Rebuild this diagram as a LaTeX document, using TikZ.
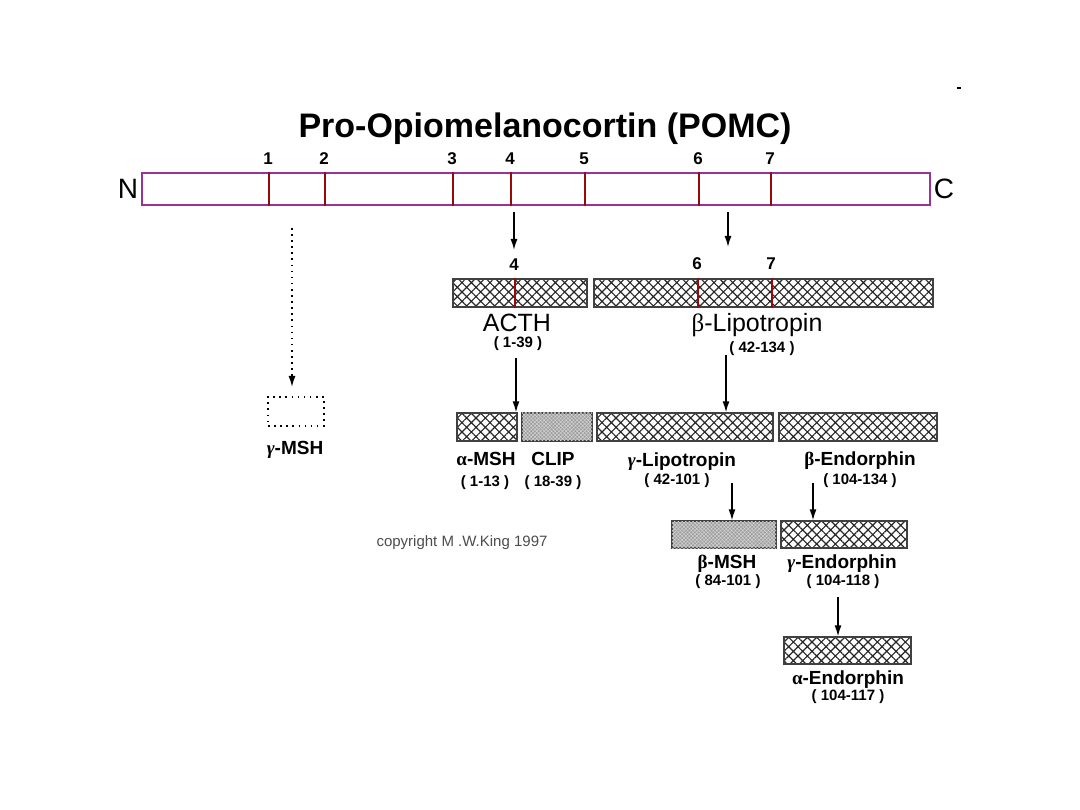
\documentclass[tikz,border=0pt]{standalone}
\usepackage{fontspec}
\setmainfont{Liberation Sans}
\newfontfamily\grk{Liberation Serif}
\usetikzlibrary{patterns.meta,arrows.meta}
\definecolor{pomcpurple}{RGB}{153,51,153}
\definecolor{tickred}{RGB}{150,10,10}
\begin{document}
\begin{tikzpicture}[x=1pt,y=-1pt,
  hatchbox/.style={draw=black!75,line width=1.3pt,inner sep=0pt,
     pattern={Hatch[angle=45,distance=6.6pt,line width=1.15pt]},pattern color=black!85},
  densebox/.style={draw=black!75,line width=1.3pt,inner sep=0pt,fill=gray!75,
     postaction={pattern={Hatch[angle=45,distance=2.6pt,line width=0.5pt]},pattern color=gray!35}},
  dotbox/.style={draw=black,line width=1.6pt,dash pattern=on 1.6pt off 4.5pt,inner sep=0pt},
  tickline/.style={draw=tickred,line width=2.2pt},
  arr/.style={line width=1.5pt,-{Latex[length=11pt,width=7pt]}},
  num/.style={anchor=base,inner sep=0pt,font=\fontsize{17}{20}\selectfont\bfseries},
  lab/.style={anchor=base,inner sep=0pt,font=\fontsize{19}{22}\selectfont\bfseries},
  biglab/.style={anchor=base,inner sep=0pt,font=\fontsize{25}{28}\selectfont},
  rng/.style={anchor=base,inner sep=0pt,font=\fontsize{15}{18}\selectfont\bfseries},
  termlab/.style={anchor=base,inner sep=0pt,font=\fontsize{28}{32}\selectfont}
]
\useasboundingbox (0,0) rectangle (1080,810);
% title
\node[anchor=base,inner sep=0pt,font=\fontsize{34}{40}\selectfont\bfseries] (title) at (545,138) {Pro-Opiomelanocortin (POMC)};
% main bar
\node[draw=pomcpurple,line width=1.5pt,minimum width=788pt,minimum height=32pt,inner sep=0pt] (pomc) at (536,189) {};
\node[termlab] (nterm) at (128,199) {N};
\node[termlab] (cterm) at (944,199) {C};
\foreach \x/\n in {269/1,325/2,453/3,511/4,585/5,699/6,771/7}{
  \draw[tickline] (pomc.north -| \x,0) -- (pomc.south -| \x,0);
  \node[num] (t\n) at (\x-1,165) {\n};
}
% stray mark
\draw[line width=1.5pt] (957,88) -- (961,88);
% second row
\node[hatchbox,minimum width=134pt,minimum height=28pt] (acth) at (520,293) {};
\node[hatchbox,minimum width=339pt,minimum height=28pt] (blip) at (763.5,293) {};
\draw[tickline] (acth.north -| 515,0) -- (acth.south -| 515,0);
\draw[tickline] (blip.north -| 698,0) -- (blip.south -| 698,0);
\draw[tickline] (blip.north -| 772,0) -- (blip.south -| 772,0);
\node[num] (n4) at (514,271) {4};
\node[num] (n6) at (697,270) {6};
\node[num] (n7) at (771,270) {7};
\node[biglab] (acthl) at (517,332) {ACTH};
\node[rng] (acthr) at (518,348) {( 1-39 )};
\node[biglab] (blipl) at (757,332) {{\grk β}-Lipotropin};
\node[rng] (blipr) at (762,353) {( 42-134 )};
% arrows from POMC
\coordinate (s4) at (514,212);
\coordinate (s67) at (728,212);
\coordinate (e4) at (514,250);
\coordinate (e67) at (728,247);
\draw[arr] (s4) -- (e4);
\draw[arr] (s67) -- (e67);
% gamma MSH
\node[dotbox,minimum width=56pt,minimum height=29pt] (gmsh) at (296,411.5) {};
\node[lab] (gmshl) at (295,454) {{\grk\itshape γ}-MSH};
\coordinate (sg) at (292,228);
\coordinate (mg) at (292,375);
\coordinate (eg) at (292,387);
\draw[line width=1.6pt,dash pattern=on 1.6pt off 4.5pt] (sg) -- (mg);
\draw[line width=1.5pt,-{Latex[length=11pt,width=7pt]}] (mg) -- (eg);
% third row
\node[hatchbox,minimum width=60pt,minimum height=28pt] (amsh) at (487,427) {};
\node[densebox,minimum width=70pt,minimum height=28pt] (clip) at (557,427) {};
\node[hatchbox,minimum width=176pt,minimum height=28pt] (glip) at (685,427) {};
\node[hatchbox,minimum width=158pt,minimum height=28pt] (bend) at (858,427) {};
\coordinate (sa) at (516,358);
\coordinate (sb) at (726,355);
\draw[arr] (sa) -- (amsh.north -| sa);
\draw[arr] (sb) -- (glip.north -| sb);
\node[lab] (amshl) at (486,466) {{\grk α}-MSH};
\node[rng] (amshr) at (485,486) {( 1-13 )};
\node[lab] (clipl) at (553,465) {CLIP};
\node[rng] (clipr) at (553,486) {( 18-39 )};
\node[lab] (glipl) at (682,467) {{\grk\itshape γ}-Lipotropin};
\node[rng] (glipr) at (677,485) {( 42-101 )};
\node[lab] (bendl) at (860,465) {{\grk β}-Endorphin};
\node[rng] (bendr) at (860,485) {( 104-134 )};
\node[anchor=base,inner sep=0pt,text=black!70,font=\fontsize{15}{18}\selectfont] (copy) at (462,546) {copyright M .W.King 1997};
% fourth row
\node[densebox,minimum width=104pt,minimum height=27pt] (bmsh) at (724,534.5) {};
\node[hatchbox,minimum width=126pt,minimum height=27pt] (gend) at (844,534.5) {};
\coordinate (sc) at (732,483);
\coordinate (sd) at (813,483);
\draw[arr] (sc) -- (bmsh.north -| sc);
\draw[arr] (sd) -- (gend.north -| sd);
\node[lab] (bmshl) at (727,568) {{\grk β}-MSH};
\node[rng] (bmshr) at (728,585) {( 84-101 )};
\node[lab] (gendl) at (842,568) {{\grk\itshape γ}-Endorphin};
\node[rng] (gendr) at (843,585) {( 104-118 )};
% fifth row
\node[hatchbox,minimum width=127pt,minimum height=27pt] (aend) at (847.5,650.5) {};
\coordinate (se) at (838,597);
\draw[arr] (se) -- (aend.north -| se);
\node[lab] (aendl) at (848,684) {{\grk α}-Endorphin};
\node[rng] (aendr) at (848,700) {( 104-117 )};
\end{tikzpicture}
\end{document}
